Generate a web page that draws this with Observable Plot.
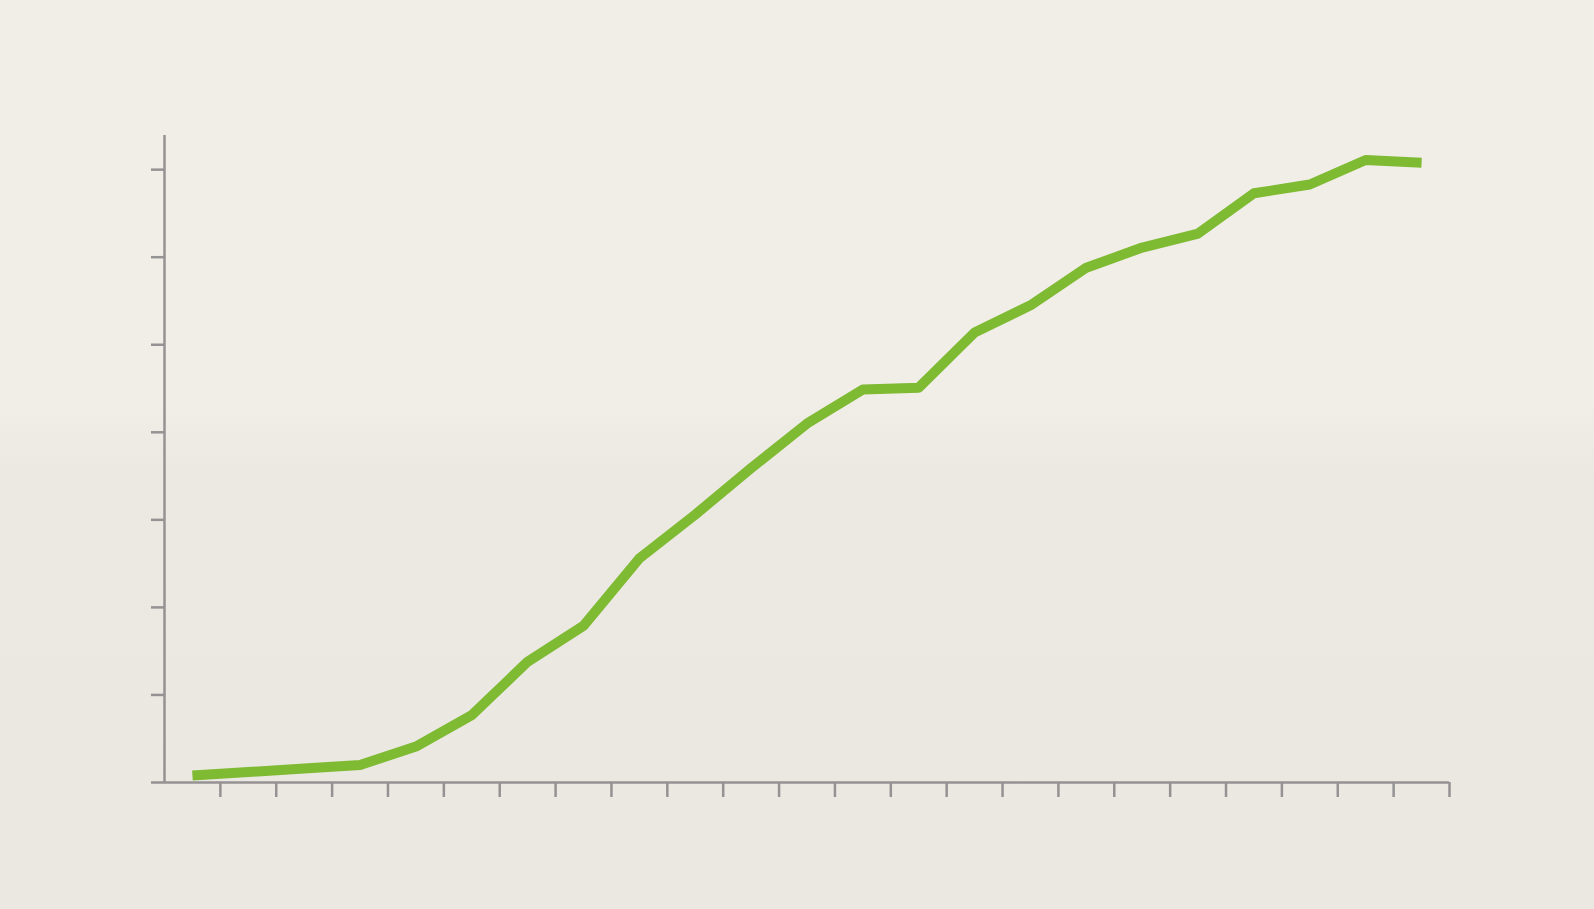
<!DOCTYPE html>
<html>
<head>
<meta charset="utf-8">
<script src="https://cdn.jsdelivr.net/npm/d3@7"></script>
<script src="https://cdn.jsdelivr.net/npm/@observablehq/plot@0.6"></script>
<style>
  html, body { margin: 0; padding: 0; }
  body {
    width: 1594px; height: 909px; overflow: hidden;
    background: linear-gradient(to bottom, #f1eee7 0px, #f1eee7 400px, #ece9e2 470px, #ebe8e1 909px);
    font-family: "Noto Sans", sans-serif;
  }
  #chart svg { display: block; background: transparent; }
</style>
</head>
<body>
<div id="chart"></div>
<script>
// Periods (23 equal slots along the x axis) and the plotted series
const periods = d3.range(23);
const values = [0.08, 0.12, 0.16, 0.20, 0.41, 0.77, 1.38, 1.79, 2.56, 3.06, 3.59, 4.10, 4.49, 4.51,
                5.14, 5.45, 5.88, 6.11, 6.27, 6.73, 6.83, 7.11, 7.08];
const xTicks = d3.range(1, 24);
const yTicks = d3.range(0, 8);

const data = periods.map((p, i) => ({ x: p + 0.5, y: values[i] }));

const axisColor = "#949292";
const lineColor = "#7fba33";

const chart = Plot.plot({
  width: 1594,
  height: 909,
  marginLeft: 164,
  marginRight: 145,
  marginTop: 135,
  marginBottom: 127,
  x: { domain: [0, 23], label: null },
  y: { domain: [0, 7.39], label: null },
  style: { background: "transparent", overflow: "visible" },
  marks: [
    Plot.axisY({ ticks: yTicks, tickSize: 13, tickFormat: () => "", label: null, stroke: axisColor, strokeWidth: 2.5 }),
    Plot.axisX({ ticks: xTicks, tickSize: 15, tickFormat: () => "", label: null, stroke: axisColor, strokeWidth: 2.5 }),
    Plot.ruleX([0], { stroke: axisColor, strokeWidth: 2.5 }),
    Plot.ruleY([0], { stroke: axisColor, strokeWidth: 2.5 }),
    Plot.line(data, { x: "x", y: "y", stroke: lineColor, strokeWidth: 10, strokeLinecap: "butt", strokeLinejoin: "round" })
  ]
});
document.getElementById("chart").append(chart);
</script>
</body>
</html>
